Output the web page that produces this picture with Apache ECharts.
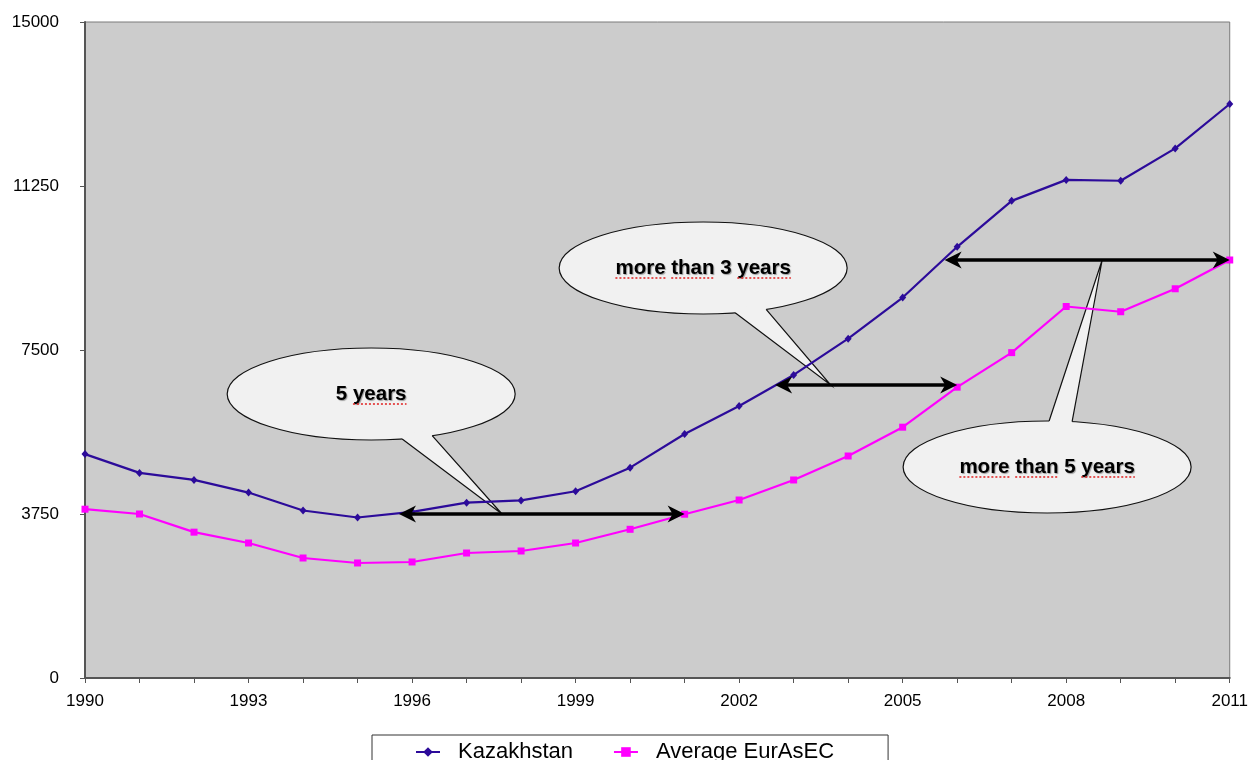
<!DOCTYPE html>
<html>
<head>
<meta charset="utf-8">
<script src="https://cdn.jsdelivr.net/npm/echarts@6/dist/echarts.min.js"></script>
<style>
  html, body { margin: 0; padding: 0; background: #ffffff; }
  #chart { width: 1251px; height: 760px; }
</style>
</head>
<body>
<div id="chart"></div>
<script>
// GDP per capita series, 1990-2011
const years = [1990, 1991, 1992, 1993, 1994, 1995, 1996, 1997, 1998, 1999, 2000,
               2001, 2002, 2003, 2004, 2005, 2006, 2007, 2008, 2009, 2010, 2011];
const kazakhstan = [5120, 4690, 4530, 4240, 3830, 3670, 3800, 4010, 4060, 4270, 4810,
                    5580, 6220, 6930, 7760, 8700, 9860, 10910, 11390, 11370, 12110, 13125];
const eurasec = [3860, 3750, 3335, 3087, 2744, 2630, 2653, 2858, 2904, 3087, 3400,
                 3745, 4070, 4528, 5076, 5735, 6650, 7440, 8495, 8375, 8900, 9558];
const seriesNames = ['Kazakhstan', 'Average EurAsEC'];
const yTickMax = 15000;
const yTickStep = 3750;
const xTickStep = 3;

// Gap annotations: double arrows between the two curves and their callouts
const gaps = [
  { from: [1995.76, 3750], to: [2001, 3750], tailX: 1997.65 },
  { from: [2002.66, 6700], to: [2006, 6700], tailX: 2003.68 },
  { from: [2005.77, 9558], to: [2011, 9558], tailX: 2008.66 }
];
const callouts = [
  { text: '5 years', words: ['years'], center: [1995.25, 6494], tail: [31, 61], side: 'bottom', gap: 0 },
  { text: 'more than 3 years', words: ['more', 'than', 'years'], center: [2001.34, 9375], tail: [32, 63], side: 'bottom', gap: 1 },
  { text: 'more than 5 years', words: ['more', 'than', 'years'], center: [2007.65, 4825], tail: [2, 25], side: 'top', gap: 2 }
];

const FONT = '"Liberation Sans", Arial, Helvetica, sans-serif';
const KAZ_COLOR = '#2c0b9a';
const EUR_COLOR = '#ff00ff';

const chart = echarts.init(document.getElementById('chart'), null, { renderer: 'canvas' });
const toPairs = vals => years.map((y, i) => [y, vals[i]]);

chart.setOption({
  animation: false,
  backgroundColor: '#ffffff',
  grid: {
    left: 85, right: 18, top: 22, bottom: 82,
    show: true, backgroundColor: '#cccccc', borderColor: '#7a7a7a', borderWidth: 1
  },
  xAxis: {
    type: 'value', min: 1990, max: 2011, interval: xTickStep,
    axisLine: { show: true, onZero: false, lineStyle: { color: '#555555', width: 2 } },
    axisTick: { show: true, length: 5, lineStyle: { color: '#555555' } },
    minorTick: { show: true, splitNumber: 3, length: 5, lineStyle: { color: '#555555' } },
    splitLine: { show: false },
    minorSplitLine: { show: false },
    axisLabel: { color: '#000', fontSize: 17, fontFamily: FONT, margin: 15, formatter: v => String(v) }
  },
  yAxis: {
    type: 'value', min: 0, max: yTickMax, interval: yTickStep,
    axisLine: { show: true, lineStyle: { color: '#555555', width: 2 } },
    axisTick: { show: true, length: 5, lineStyle: { color: '#555555' } },
    splitLine: { show: false },
    axisLabel: { color: '#000', fontSize: 17, fontFamily: FONT, margin: 26, formatter: v => String(v) }
  },
  legend: {
    left: 372, top: 735, orient: 'horizontal',
    itemWidth: 24, itemHeight: 12, itemGap: 40,
    padding: [6, 54, 20, 43],
    borderColor: '#333333', borderWidth: 1, backgroundColor: '#ffffff',
    textStyle: { color: '#000', fontSize: 22, fontFamily: FONT, padding: [0, 0, 0, 13] },
    data: seriesNames
  },
  series: [
    {
      name: seriesNames[0], type: 'line', data: toPairs(kazakhstan),
      symbol: 'diamond', symbolSize: [7, 8],
      lineStyle: { color: KAZ_COLOR, width: 2.2 },
      itemStyle: { color: KAZ_COLOR }, z: 3
    },
    {
      name: seriesNames[1], type: 'line', data: toPairs(eurasec),
      symbol: 'rect', symbolSize: 7,
      lineStyle: { color: EUR_COLOR, width: 2.2 },
      itemStyle: { color: EUR_COLOR }, z: 3
    }
  ]
});

// ---- annotation layer -------------------------------------------------
const px = p => chart.convertToPixel({ gridIndex: 0 }, p);
const graphics = [];
const RX = 144, RY = 46;
const labelFont = 'bold 20.5px ' + FONT;

const measureCtx = document.createElement('canvas').getContext('2d');
measureCtx.font = labelFont;
const textW = s => measureCtx.measureText(s).width;

function arrowHead(x, y, dir) {
  // dir = -1 points left, +1 points right
  return [[x, y], [x - dir * 17, y - 8.5], [x - dir * 12, y], [x - dir * 17, y + 8.5]];
}

gaps.forEach(g => {
  const a = px(g.from), b = px(g.to);
  graphics.push({
    type: 'line', z: 20,
    shape: { x1: a[0] + 10, y1: a[1], x2: b[0] - 10, y2: b[1] },
    style: { stroke: '#000', lineWidth: 3.5 }
  });
  graphics.push({ type: 'polygon', z: 20, shape: { points: arrowHead(a[0], a[1], -1) }, style: { fill: '#000' } });
  graphics.push({ type: 'polygon', z: 20, shape: { points: arrowHead(b[0], b[1], 1) }, style: { fill: '#000' } });
});

callouts.forEach(c => {
  const [cx, cy] = px(c.center);
  const g = gaps[c.gap];
  const tip = [px([g.tailX, g.from[1]])[0], px(g.from)[1]];
  const sgn = c.side === 'bottom' ? 1 : -1;
  const base = c.tail.map(dx => {
    const dy = RY * Math.sqrt(1 - (dx / RX) * (dx / RX));
    return [cx + dx, cy + sgn * dy];
  });
  graphics.push({
    type: 'ellipse', z: 1,
    shape: { cx, cy, rx: RX, ry: RY },
    style: { fill: '#f1f1f1', stroke: '#111', lineWidth: 1.2 }
  });
  graphics.push({
    type: 'polygon', z: 1.5,
    shape: { points: [[base[0][0], base[0][1] - sgn * 5], base[0], tip, base[1], [base[1][0], base[1][1] - sgn * 5]] },
    style: { fill: '#f1f1f1' }
  });
  graphics.push({
    type: 'polyline', z: 1.6,
    shape: { points: [base[0], tip, base[1]] },
    style: { stroke: '#111', lineWidth: 1.2, fill: null }
  });
  graphics.push({
    type: 'text', z: 21, x: cx, y: cy,
    style: {
      text: c.text, font: labelFont, fill: '#000', align: 'center', verticalAlign: 'middle',
      textShadowColor: 'rgba(0,0,0,0.35)', textShadowOffsetX: 1, textShadowOffsetY: 1, textShadowBlur: 1
    }
  });
  // spell-check style dotted underlines under selected words
  const total = textW(c.text);
  const start = cx - total / 2;
  let searchFrom = 0;
  c.words.forEach(w => {
    const idx = c.text.indexOf(w, searchFrom);
    searchFrom = idx + w.length;
    const x0 = start + textW(c.text.slice(0, idx));
    const x1 = x0 + textW(w);
    graphics.push({
      type: 'line', z: 21,
      shape: { x1: x0, y1: cy + 10, x2: x1, y2: cy + 10 },
      style: { stroke: '#e02020', lineWidth: 1.5, lineDash: [2, 2] }
    });
  });
});

chart.setOption({ graphic: graphics });
</script>
</body>
</html>
